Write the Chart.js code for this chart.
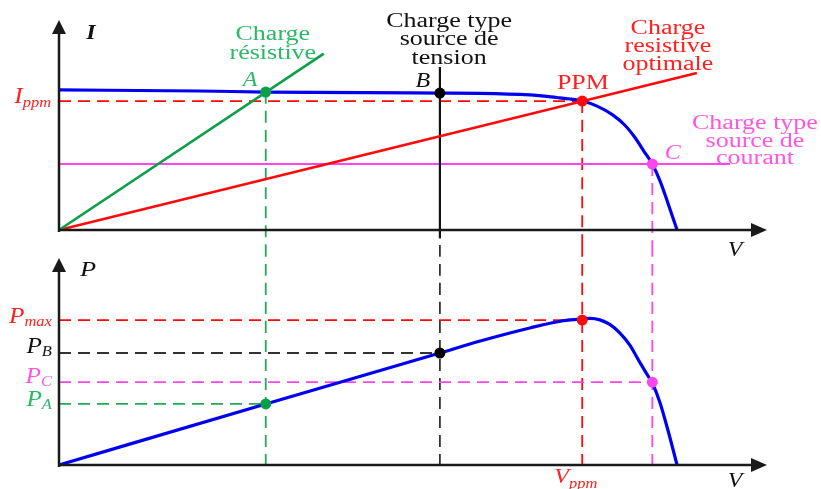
<!DOCTYPE html>
<html>
<head>
<meta charset="utf-8">
<script src="https://cdn.jsdelivr.net/npm/chart.js@4.4.1/dist/chart.umd.min.js"></script>
<style>
  html, body { margin: 0; background: #fff; }
  #wrap { position: relative; width: 821px; height: 489px; overflow: hidden; }
  #ivChart { position: absolute; left: 0; top: 0; }
  #pvChart { position: absolute; left: 0; top: 245px; }
</style>
</head>
<body>
<div id="wrap">
  <canvas id="ivChart" width="821" height="262"></canvas>
  <canvas id="pvChart" width="821" height="244"></canvas>
</div>
<script>
// schematic units: V and I/P both on a 0..100 scale (axis arrow tip = 100)

// I-V characteristic of the PV generator
const ivVolts = [0, 19.9, 29.2, 53.8, 59.5, 66.5, 70.3, 72.2, 73.9, 76.0, 78.2, 79.9, 81.4, 82.6, 83.8, 84.9, 86.0, 87.3];
const ivAmps  = [66.7, 66.2, 65.7, 65.2, 65.1, 64.3, 63.1, 62.4, 61.4, 59.0, 54.8, 50.0, 43.8, 37.6, 31.4, 23.3, 12.9, 0];

// P-V characteristic
const pvVolts = [0, 29.2, 53.8, 59.5, 66.5, 71.2, 73.9, 75.0, 76.4, 77.8, 79.2, 80.6, 82.0, 83.2, 83.8, 84.9, 86.0, 87.3];
const pvWatts = [0, 29.5, 54.1, 59.9, 66.2, 69.7, 70.6, 70.8, 70.1, 67.9, 63.8, 58.0, 49.8, 43.0, 39.6, 30.0, 16.9, 0];

// operating points A, B, PPM, C
const opNames = ['A', 'B', 'PPM', 'C'];
const opVolts = [29.2, 53.8, 73.9, 83.8];
const opAmps  = [65.7, 65.2, 61.4, 31.4];
const opWatts = [29.5, 54.1, 70.0, 40.0];

// load characteristics
const resistiveVolts = [0, 37.4];
const resistiveAmps  = [0, 84.0];
const optimalVolts = [0, 90.1];
const optimalAmps  = [0, 74.8];
const voltageSourceAmps = [77.6, -4];      // vertical at V of B
const currentSourceVolts = [0, 94.8];      // horizontal at I of C

const COL = {
  blue: '#0000f0', ink: '#111111',
  green: '#0c9f4a', greenDash: '#22aa58', greenText: '#2cb866',
  red: '#ff0a0a', redText: '#ff2020',
  pink: '#ff45ec', pinkText: '#ff55e0'
};
const SERIF = '"Liberation Serif", "Times New Roman", serif';
const IV_BOTTOM = -7.14;   // value at the seam between the two canvases
const PV_TOP = 106.3;

const pts = (xs, ys) => xs.map((x, i) => ({ x, y: ys[i] }));

function line(data, color, width, order, extra) {
  return Object.assign({
    data, showLine: true, borderColor: color, borderWidth: width,
    pointRadius: 0, fill: false, clip: false, order
  }, extra || {});
}
function dashed(data, color) {
  return line(data, color, 1.8, 5, { borderDash: [12, 7] });
}
function dot(x, y, color) {
  return {
    data: [{ x, y }], showLine: false, pointRadius: 5.5, pointHoverRadius: 5.5,
    pointBackgroundColor: color, pointBorderColor: color, pointBorderWidth: 0,
    clip: false, order: 0
  };
}

const axesPlugin = {
  id: 'arrowAxes',
  afterDatasetsDraw(chart) {
    const { ctx, scales: { x, y } } = chart;
    const x0 = x.getPixelForValue(0), y0 = y.getPixelForValue(0);
    const xEnd = x.getPixelForValue(x.max), yEnd = y.getPixelForValue(y.max);
    ctx.save();
    ctx.strokeStyle = ctx.fillStyle = '#1a1a1a';
    ctx.lineWidth = 2.5;
    ctx.beginPath();
    ctx.moveTo(x0, y0 + 2); ctx.lineTo(x0, yEnd + 10);
    ctx.moveTo(x0 - 1, y0); ctx.lineTo(xEnd - 12, y0);
    ctx.stroke();
    ctx.beginPath();
    ctx.moveTo(x0, yEnd); ctx.lineTo(x0 - 7, yEnd + 14); ctx.lineTo(x0 + 7, yEnd + 14);
    ctx.closePath(); ctx.fill();
    ctx.beginPath();
    ctx.moveTo(xEnd, y0); ctx.lineTo(xEnd - 16, y0 - 7); ctx.lineTo(xEnd - 16, y0 + 7);
    ctx.closePath(); ctx.fill();
    ctx.restore();
  }
};

// text annotations placed in data units
function labelPlugin(items) {
  return {
    id: 'sketchLabels',
    afterDraw(chart) {
      const { ctx, scales: { x, y } } = chart;
      items.forEach(it => {
        const px = x.getPixelForValue(it.v), py = y.getPixelForValue(it.y);
        const size = it.size || 20;
        const mainFont = `${it.style || ''} ${size}px ${SERIF}`;
        const subFont = `italic ${it.subSize || 15}px ${SERIF}`;
        ctx.save();
        ctx.translate(px, py + 2);
        ctx.scale(it.sx || 1.3, 1);
        ctx.fillStyle = it.color;
        ctx.textBaseline = 'middle';
        ctx.textAlign = 'left';
        ctx.font = mainFont;
        const w = ctx.measureText(it.text).width;
        let sw = 0;
        if (it.sub) { ctx.font = subFont; sw = ctx.measureText(it.sub).width; }
        const total = w + sw;
        const left = it.align === 'right' ? -total : -total / 2;
        ctx.font = mainFont;
        ctx.fillText(it.text, left, 0);
        if (it.sub) { ctx.font = subFont; ctx.fillText(it.sub, left + w, it.subDy || 6); }
        ctx.restore();
      });
    }
  };
}

const ivLabels = [
  { text: 'I', v: 4.5, y: 94.3, color: COL.ink, style: 'italic bold', sx: 1.2 },
  { text: 'Charge', v: 30.2, y: 93.8, color: COL.greenText },
  { text: 'résistive', v: 30.2, y: 84.8, color: COL.greenText },
  { text: 'Charge type', v: 55.1, y: 100.0, color: COL.ink },
  { text: 'source de', v: 55.1, y: 91.4, color: COL.ink },
  { text: 'tension', v: 55.1, y: 82.4, color: COL.ink },
  { text: 'Charge', v: 86.0, y: 96.7, color: COL.redText },
  { text: 'resistive', v: 86.0, y: 88.1, color: COL.redText },
  { text: 'optimale', v: 86.0, y: 79.5, color: COL.redText },
  { text: 'PPM', v: 74.0, y: 70.5, color: COL.redText },
  { text: 'A', v: 27.0, y: 71.9, color: COL.greenText, style: 'italic', sx: 1.2 },
  { text: 'B', v: 51.4, y: 71.4, color: COL.ink, style: 'italic', sx: 1.2 },
  { text: 'C', v: 86.7, y: 37.1, color: COL.pinkText, style: 'italic', sx: 1.2 },
  { text: 'Charge type', v: 98.3, y: 51.4, color: COL.pinkText },
  { text: 'source de', v: 98.3, y: 42.9, color: COL.pinkText },
  { text: 'courant', v: 98.3, y: 34.8, color: COL.pinkText },
  { text: 'I', sub: 'ppm', v: -1.1, y: 64.3, color: COL.redText, style: 'italic', size: 23, align: 'right', sx: 1.1 },
  { text: 'V', v: 95.5, y: -9.0, color: COL.ink, style: 'italic', sx: 1.2 }
];

const pvLabels = [
  { text: 'P', v: 4.1, y: 95.2, color: COL.ink, style: 'italic', sx: 1.2, size: 22 },
  { text: 'P', sub: 'max', v: -1.0, y: 72.5, color: COL.redText, style: 'italic', size: 23, align: 'right', sx: 1.1, subDy: 5 },
  { text: 'P', sub: 'B', v: -1.0, y: 58.0, color: COL.ink, style: 'italic', size: 23, align: 'right', sx: 1.1, subDy: 5 },
  { text: 'P', sub: 'C', v: -1.0, y: 43.5, color: COL.pinkText, style: 'italic', size: 23, align: 'right', sx: 1.1, subDy: 5 },
  { text: 'P', sub: 'A', v: -1.0, y: 32.4, color: COL.greenText, style: 'italic', size: 23, align: 'right', sx: 1.1, subDy: 5 },
  { text: 'V', sub: 'ppm', v: 73.0, y: -4.8, color: COL.redText, style: 'italic', size: 22, sx: 1.1, subDy: 7 },
  { text: 'V', v: 95.5, y: -7.2, color: COL.ink, style: 'italic', sx: 1.2 }
];

function baseOptions(pad) {
  return {
    responsive: false,
    animation: false,
    devicePixelRatio: 1,
    events: [],
    layout: { padding: pad },
    plugins: { legend: { display: false }, tooltip: { enabled: false } },
    elements: { line: { cubicInterpolationMode: 'monotone' } },
    scales: {
      x: { type: 'linear', min: 0, max: 100, display: false },
      y: { type: 'linear', min: 0, max: 100, display: false }
    }
  };
}

const [vA, vB, vM, vC] = opVolts;
const [iA, iB, iM, iC] = opAmps;
const [pA, pB, pM, pC] = opWatts;

// I = f(V) with the load lines
new Chart(document.getElementById('ivChart'), {
  type: 'scatter',
  data: {
    datasets: [
      dot(vA, iA, COL.green),
      dot(vB, iB, '#000'),
      dot(vM, iM, COL.red),
      dot(vC, iC, COL.pink),
      line(pts(resistiveVolts, resistiveAmps), COL.green, 2.6, 1),
      line(pts(optimalVolts, optimalAmps), COL.red, 2.6, 1),
      line(pts([vB, vB], voltageSourceAmps), COL.ink, 2.2, 1),
      line(pts(currentSourceVolts, [iC, iC]), COL.pink, 2, 1),
      line(pts(ivVolts, ivAmps), COL.blue, 3.2, 2),
      dashed(pts([0, vM], [iM, iM]), COL.red),
      dashed(pts([vA, vA], [iA, IV_BOTTOM]), COL.greenDash),
      dashed(pts([vM, vM], [iM, IV_BOTTOM]), COL.red),
      dashed(pts([vC, vC], [iC, IV_BOTTOM]), COL.pink)
    ]
  },
  options: baseOptions({ left: 59, right: 54, top: 20, bottom: 32 }),
  plugins: [axesPlugin, labelPlugin(ivLabels)]
});

// P = f(V)
new Chart(document.getElementById('pvChart'), {
  type: 'scatter',
  data: {
    datasets: [
      dot(vA, pA, COL.green),
      dot(vB, pB, '#000'),
      dot(vM, pM, COL.red),
      dot(vC, pC, COL.pink),
      line(pts(pvVolts, pvWatts), COL.blue, 3.2, 2),
      dashed(pts([0, vM], [pM, pM]), COL.red),
      dashed(pts([0, vB], [pB, pB]), '#333'),
      dashed(pts([0, vC], [pC, pC]), COL.pink),
      dashed(pts([0, vA], [pA, pA]), COL.greenDash),
      dashed(pts([vA, vA], [PV_TOP, 0]), COL.greenDash),
      dashed(pts([vB, vB], [PV_TOP, 0]), '#333'),
      dashed(pts([vM, vM], [PV_TOP, 0]), COL.red),
      dashed(pts([vC, vC], [PV_TOP, 0]), COL.pink)
    ]
  },
  options: baseOptions({ left: 59, right: 54, top: 13, bottom: 24 }),
  plugins: [axesPlugin, labelPlugin(pvLabels)]
});
</script>
</body>
</html>
